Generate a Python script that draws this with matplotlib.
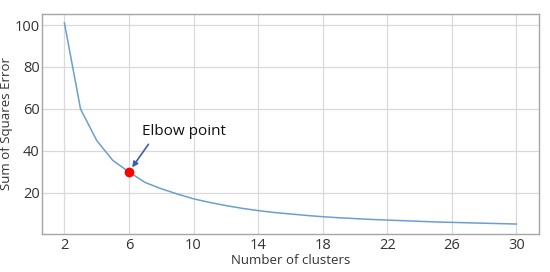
import matplotlib.pyplot as plt

plt.rcParams['font.family'] = ['Open Sans', 'DejaVu Sans']

# number of clusters vs. SSE
clusters = list(range(2, 31))
sse = [101, 60, 45, 35.5, 30, 25, 22, 19.5, 17.2, 15.5, 14, 12.7, 11.6, 10.7,
       10, 9.3, 8.7, 8.2, 7.8, 7.4, 7.1, 6.8, 6.5, 6.2, 6.0, 5.8, 5.6, 5.4, 5.2]
elbow_k = 6
elbow_sse = 30
x_ticks = [2, 6, 10, 14, 18, 22, 26, 30]
y_ticks = [20, 40, 60, 80, 100]

fig = plt.figure(figsize=(5.5, 2.72), dpi=100)
ax = fig.add_axes([0.076, 0.14, 0.904, 0.809])

ax.plot(clusters, sse, color='#6a9fcf', linewidth=1.1, zorder=2)
ax.plot(elbow_k, elbow_sse, 'o', color='red', markersize=6, zorder=3)

# arrow from below the text to the elbow
ax.annotate('Elbow point', xy=(elbow_k, elbow_sse), xytext=(6.8, 47.5),
            fontsize=11, color='#111111',
            arrowprops=dict(arrowstyle='-|>', color='#3b5fb0', lw=1.2,
                            mutation_scale=8, shrinkA=2, shrinkB=4,
                            relpos=(0.12, 0.0)))

ax.set_xticks(x_ticks)
ax.set_yticks(y_ticks)
ax.set_xlim(0.6, 31.4)
ax.set_ylim(0.5, 105.3)
ax.tick_params(length=0, labelsize=10.5, labelcolor='#333333')
ax.tick_params(axis='x', pad=3)
ax.tick_params(axis='y', pad=1.5)

ax.set_xlabel('Number of clusters', fontsize=9.5, color='#333333', labelpad=1)
ax.set_ylabel('Sum of Squares Error', fontsize=9.5, color='#333333', labelpad=1)

ax.grid(True, color='#d9d9d9', linewidth=0.9)
ax.set_axisbelow(True)
for s in ax.spines.values():
    s.set_color('#a6a6a6')
    s.set_linewidth(1.0)

plt.savefig('out.png', dpi=100, facecolor='white')
